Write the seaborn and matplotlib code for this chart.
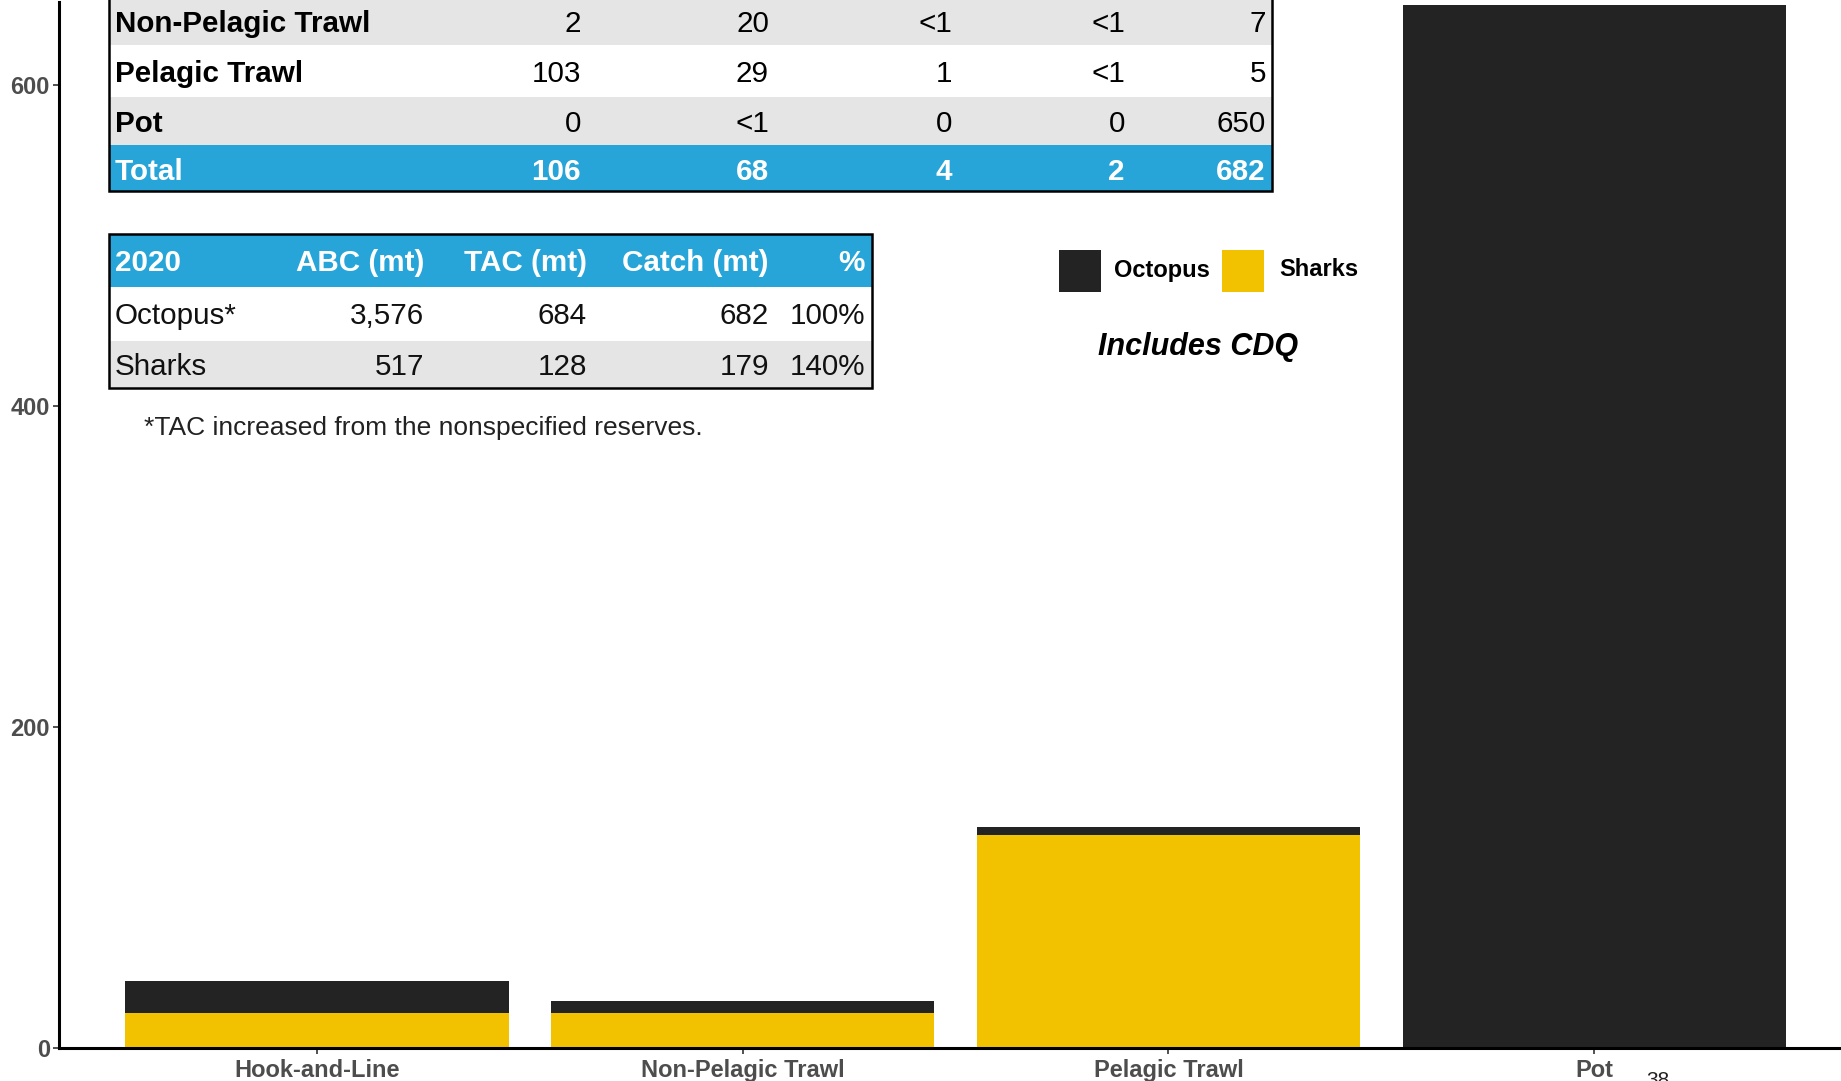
import matplotlib
matplotlib.use("Agg")
import matplotlib.pyplot as plt
from matplotlib.patches import Rectangle
import seaborn as sns
import pandas as pd

# ---- chart data: catch (t) by gear type ----
gears = ["Hook-and-Line", "Non-Pelagic Trawl", "Pelagic Trawl", "Pot"]
sharks_catch = [22, 22, 133, 0]
octopus_catch = [20, 7, 5, 650]
y_ticks = [0, 200, 400, 600]

# ---- catch-by-gear table (species columns) ----
gear_table_rows = ["Non-Pelagic Trawl", "Pelagic Trawl", "Pot", "Total"]
gear_table_cells = [
    ["2", "20", "<1", "<1", "7"],
    ["103", "29", "1", "<1", "5"],
    ["0", "<1", "0", "0", "650"],
    ["106", "68", "4", "2", "682"],
]

# ---- 2020 specifications table ----
spec_header = ["2020", "ABC (mt)", "TAC (mt)", "Catch (mt)", "%"]
spec_rows = [
    ["Octopus*", "3,576", "684", "682", "100%"],
    ["Sharks", "517", "128", "179", "140%"],
]
footnote = "*TAC increased from the nonspecified reserves."
legend_labels = ["Octopus", "Sharks"]
note_text = "Includes CDQ"
page_number = "38"

OCTO = "#232323"
SHARK = "#f2c200"
BLUE = "#27a4d8"
GREY_ROW = "#e5e5e5"
TICK_GREY = "#4d4d4d"

sns.set_theme(style="white")
plt.rcParams["font.family"] = ["Liberation Sans", "DejaVu Sans"]

W, H = 1841, 1081
fig = plt.figure(figsize=(W / 100, H / 100), dpi=100)
fig.patch.set_facecolor("white")

# main bar axes (extends to the right edge of the page)
ax = fig.add_axes([59 / W, 1 - 1048 / H, 1 - 59 / W, (1048 - 2) / H])

df = pd.DataFrame({"gear": gears, "sharks": sharks_catch, "octopus": octopus_catch})
df["total"] = df["sharks"] + df["octopus"]

# stacked bars: total in octopus colour, sharks drawn over the lower part
sns.barplot(data=df, x="gear", y="total", color=OCTO, saturation=1, width=0.9,
            errorbar=None, linewidth=0, ax=ax)
sns.barplot(data=df, x="gear", y="sharks", color=SHARK, saturation=1, width=0.9,
            errorbar=None, linewidth=0, ax=ax)

ax.set_xlim(-0.606, 3.58)
ax.set_ylim(0, 652)
ax.set_yticks(y_ticks)
ax.set_xlabel("")
ax.set_ylabel("")
for side in ["top", "right"]:
    ax.spines[side].set_visible(False)
for side in ["left", "bottom"]:
    ax.spines[side].set_color("black")
    ax.spines[side].set_linewidth(2.2)
ax.tick_params(axis="both", which="major", length=4, width=1.2, color="#333333",
               direction="out", left=True, bottom=True, labelsize=17,
               labelcolor=TICK_GREY)
ax.tick_params(axis="y", pad=2.5)
ax.tick_params(axis="x", pad=4)
for lab in ax.get_xticklabels() + ax.get_yticklabels():
    lab.set_fontweight("bold")

# overlay in page pixel coordinates for tables and annotations
ov = fig.add_axes([0, 0, 1, 1], zorder=5)
ov.set_xlim(0, W)
ov.set_ylim(H, 0)
ov.axis("off")
ov.patch.set_alpha(0)


def draw_table(x0, x1, edges, fills, label_x, value_right, rows, colors, weights,
               size=21.3, text_shift=3.5):
    for i, row in enumerate(rows):
        top, bot = edges[i], edges[i + 1]
        ov.add_patch(Rectangle((x0, top), x1 - x0, bot - top, facecolor=fills[i],
                               edgecolor="none", zorder=1))
        yc = (top + bot) / 2 + text_shift
        ov.text(label_x, yc, row[0], ha="left", va="center", fontsize=size,
                color=colors[i], fontweight=weights[i][0], zorder=3)
        for xr, val in zip(value_right, row[1:]):
            ov.text(xr, yc, val, ha="right", va="center", fontsize=size,
                    color=colors[i], fontweight=weights[i][1], zorder=3)
    ov.add_patch(Rectangle((x0, edges[0]), x1 - x0, edges[-1] - edges[0],
                           facecolor="none", edgecolor="black", linewidth=1.8,
                           zorder=4))


# catch by gear table (top of page)
draw_table(
    109, 1272, [-4, 45, 97, 145, 191],
    [GREY_ROW, "white", GREY_ROW, BLUE],
    115, [581, 769, 952, 1125, 1266],
    [[g] + c for g, c in zip(gear_table_rows, gear_table_cells)],
    ["black", "black", "black", "white"],
    [("bold", "normal"), ("bold", "normal"), ("bold", "normal"), ("bold", "bold")],
)

# 2020 specifications table
draw_table(
    109, 872, [234, 287, 341, 388],
    [BLUE, "white", GREY_ROW],
    115, [424, 587, 769, 865],
    [spec_header] + spec_rows,
    ["white", "#111111", "#111111"],
    [("bold", "bold"), ("normal", "normal"), ("normal", "normal")],
    text_shift=2.5,
)

ov.text(144, 428, footnote, ha="left", va="center", fontsize=19, color="#222222")

# legend
legend_colors = [OCTO, SHARK]
for (sx, tx), lab, col in zip([(1059, 1114), (1222, 1279)], legend_labels,
                              legend_colors):
    ov.add_patch(Rectangle((sx, 250), 42, 42, facecolor=col, edgecolor="none"))
    ov.text(tx, 270, lab, ha="left", va="center", fontsize=17,
            fontweight="bold", color="black")

ov.text(1198, 347, note_text, ha="center", va="center", fontsize=22,
        fontweight="bold", fontstyle="italic", color="black")

ov.text(1658, 1071, page_number, ha="center", va="top", fontsize=15,
        color="#222222")

fig.savefig("out.png", dpi=100, facecolor="white")
